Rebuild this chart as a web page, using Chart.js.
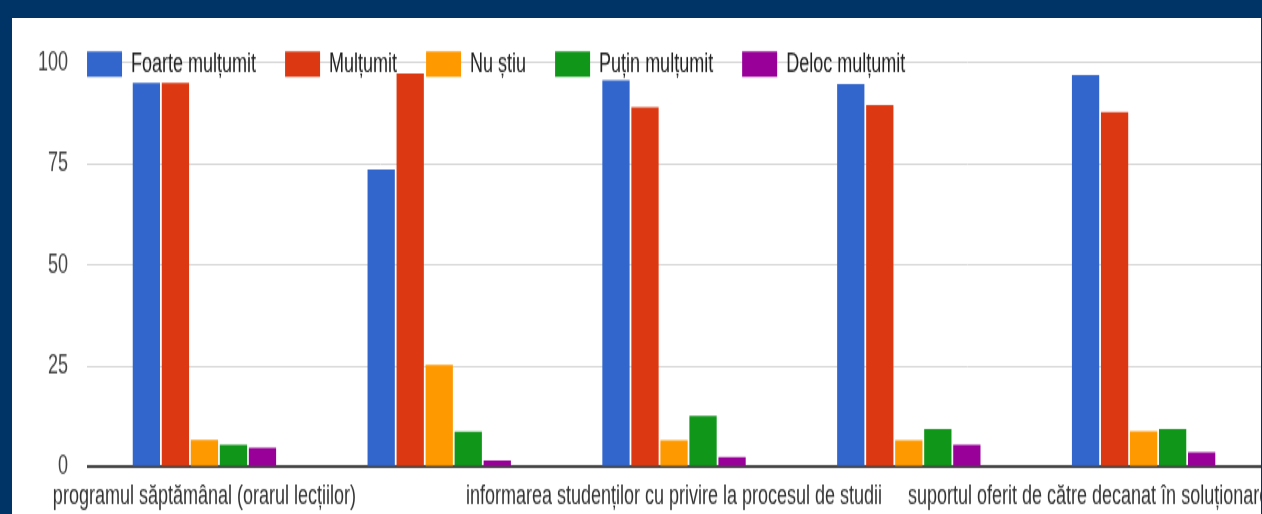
<!DOCTYPE html>
<html>
<head>
    <meta charset="utf-8">
    <title>Gradul de mulțumire</title>
    <script src="https://cdn.jsdelivr.net/npm/chart.js"></script>
    <style>
        html, body { margin: 0; padding: 0; width: 1262px; height: 514px; overflow: hidden; background: #003366; }
        #panel { position: absolute; left: 12px; top: 18px; width: 1249px; height: 496px; background: #fff; overflow: hidden; }
        /* the original picture is stretched vertically, so draw flat and scale up */
        #stretch { position: absolute; left: 0; top: 0; width: 1549px; height: 339px; transform: scaleY(1.5); transform-origin: 0 0; }
    </style>
</head>
<body>
    <div id="panel">
        <div id="stretch">
            <canvas id="myChart"></canvas>
        </div>
    </div>

    <script>
        var categories = [
            'programul săptămânal (orarul lecțiilor)',
            '',
            'informarea studenților cu privire la procesul de studii',
            '',
            'suportul oferit de către decanat în soluționarea problemelor'
        ];
        var seriesNames = ['Foarte mulțumit', 'Mulțumit', 'Nu știu', 'Puțin mulțumit', 'Deloc mulțumit'];
        var foarteMultumit = [95, 73.6, 95.7, 94.7, 97];
        var multumit = [95, 97.3, 89, 89.5, 87.8];
        var nuStiu = [6.7, 25.3, 6.6, 6.6, 8.9];
        var putinMultumit = [5.5, 8.8, 12.7, 9.4, 9.4];
        var delocMultumit = [4.8, 1.6, 2.5, 5.5, 3.7];
        var yTicks = [0, 25, 50, 75, 100];
        var colors = ['#3366cc', '#dc3912', '#ff9900', '#109618', '#990099'];

        var values = [foarteMultumit, multumit, nuStiu, putinMultumit, delocMultumit];

        Chart.defaults.font.family = '"Liberation Sans", Arial, sans-serif';
        Chart.defaults.font.size = 18;

        // legend sits on top of the 100 gridline, like in the slide
        const legendOnGrid = {
            id: 'legendOnGrid',
            afterLayout(chart) {
                const lg = chart.legend;
                const area = chart.chartArea;
                const pad = lg.options.labels.padding;
                const w = lg.width;
                lg.left = area.left - pad;
                lg.top = area.top - pad - 8;
                lg.right = lg.left + w;
                lg.bottom = lg.top + 70;
            }
        };

        const ctx = document.getElementById('myChart').getContext('2d');
        const myChart = new Chart(ctx, {
            type: 'bar',
            data: {
                labels: categories,
                datasets: seriesNames.map(function (name, i) {
                    return {
                        label: name,
                        data: values[i],
                        backgroundColor: colors[i],
                        borderWidth: 0,
                        barPercentage: 0.94,
                        categoryPercentage: 0.618
                    };
                })
            },
            options: {
                responsive: true,
                maintainAspectRatio: false,
                animation: false,
                layout: { padding: { left: 7, right: 300, top: 28, bottom: 0 } },
                plugins: {
                    legend: {
                        position: 'top',
                        align: 'start',
                        maxHeight: 1,
                        labels: { boxWidth: 35, boxHeight: 17, padding: 29, color: '#222' }
                    },
                    tooltip: { enabled: false }
                },
                scales: {
                    x: {
                        grid: { display: false, drawTicks: false },
                        border: { display: false },
                        ticks: { autoSkip: false, maxRotation: 0, minRotation: 0, padding: 9, color: '#333' }
                    },
                    y: {
                        min: 0,
                        max: 100,
                        afterBuildTicks: function (scale) {
                            scale.ticks = yTicks.map(function (v) { return { value: v }; });
                        },
                        border: { display: false },
                        grid: {
                            drawTicks: false,
                            color: function (c) { return c.tick.value === 0 ? '#444' : '#d4d4d4'; },
                            lineWidth: function (c) { return c.tick.value === 0 ? 2 : 1; }
                        },
                        ticks: { padding: 19, color: '#444' }
                    }
                }
            },
            plugins: [legendOnGrid]
        });
    </script>
</body>
</html>
